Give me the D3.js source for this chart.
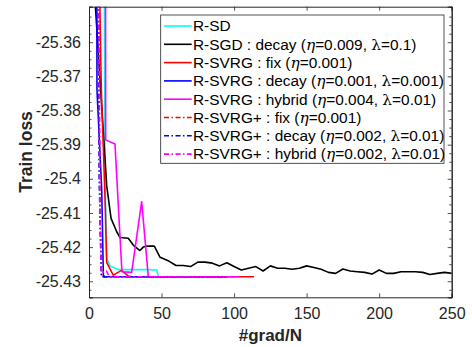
<!DOCTYPE html>
<html><head><meta charset="utf-8">
<script src="https://cdn.jsdelivr.net/npm/d3@7"></script>
<style>
body{margin:0;background:#fff;}
svg{display:block;font-family:"Liberation Sans",Arial,Helvetica,sans-serif;}
</style></head>
<body><svg id="chart" width="472" height="347"></svg>
<script>
// ---- data ----
const xTicks = [0, 50, 100, 150, 200, 250];
const yTicks = [-25.36, -25.37, -25.38, -25.39, -25.4, -25.41, -25.42, -25.43];
const yTickLabels = ["-25.36", "-25.37", "-25.38", "-25.39", "-25.4", "-25.41", "-25.42", "-25.43"];
const xDomain = [0, 250];
const yDomain = [-25.4347, -25.3496];

const sdX = [10.3, 11, 12.2, 14.5, 18, 20, 30, 40, 46.7, 47.8];
const sdY = [-25.30, -25.400, -25.4232, -25.4255, -25.4262, -25.4266, -25.4266, -25.4266, -25.4267, -25.4285];

const sgdX = [3, 12.2, 15.2, 19.1, 21.4, 27.1, 30.5, 35.1, 37.4, 40, 45, 49, 55, 60, 65, 70, 75, 80, 85, 90, 95, 100, 105, 110, 115, 120, 125, 130, 135, 140, 145, 150, 155, 160, 165, 170, 175, 180, 185, 190, 195, 200, 205, 210, 215, 220, 225, 230, 235, 240, 245, 250];
const sgdY = [-25.34, -25.402, -25.4116, -25.4155, -25.4172, -25.4174, -25.4194, -25.421, -25.42, -25.4197, -25.4197, -25.423, -25.4241, -25.4254, -25.4254, -25.4257, -25.4244, -25.4244, -25.4247, -25.4255, -25.4246, -25.4257, -25.4267, -25.4262, -25.4257, -25.427, -25.4255, -25.4262, -25.4262, -25.4265, -25.4262, -25.4255, -25.426, -25.4265, -25.4274, -25.4277, -25.4264, -25.427, -25.4272, -25.4274, -25.4279, -25.4267, -25.4277, -25.4277, -25.4272, -25.4272, -25.4272, -25.4274, -25.428, -25.4277, -25.4274, -25.4277];

const svrgFixX = [5.5, 8.5, 11, 12.2, 16.7, 22.5, 27.1, 30, 60, 90, 113.7];
const svrgFixY = [-25.30, -25.374, -25.405, -25.4245, -25.4282, -25.4268, -25.4285, -25.4287, -25.4287, -25.4287, -25.4287];

const svrgDecayX = [5, 5.5, 8.75, 9.9, 11, 50, 95];
const svrgDecayY = [-25.20, -25.374, -25.403, -25.4283, -25.4287, -25.4287, -25.4287];

const svrgHybX = [11, 11.5, 17.9, 22.7, 29.4, 36.3, 40.9, 70, 103];
const svrgHybY = [-25.20, -25.3886, -25.3898, -25.4272, -25.4274, -25.4067, -25.4287, -25.4287, -25.4287];

const plusFixX = [5.3, 7.5, 8.8, 50, 95];
const plusFixY = [-25.20, -25.41, -25.4287, -25.4287, -25.4287];

const plusDecayX = [5, 7, 8.5, 50, 95];
const plusDecayY = [-25.20, -25.40, -25.4287, -25.4287, -25.4287];

const plusHybX = [5, 7.5, 8.5, 12, 14, 50, 95];
const plusHybY = [-25.20, -25.41, -25.4275, -25.427, -25.4287, -25.4287, -25.4287];

const seriesNames = [
  ["R-SD"],
  ["R-SGD : decay (", "η", "=0.009, ", "λ", "=0.1)"],
  ["R-SVRG : fix (", "η", "=0.001)"],
  ["R-SVRG : decay (", "η", "=0.001, ", "λ", "=0.001)"],
  ["R-SVRG : hybrid (", "η", "=0.004, ", "λ", "=0.01)"],
  ["R-SVRG+ : fix (", "η", "=0.001)"],
  ["R-SVRG+ : decay (", "η", "=0.002, ", "λ", "=0.01)"],
  ["R-SVRG+ : hybrid (", "η", "=0.002, ", "λ", "=0.01)"]
];
const seriesX = [sdX, sgdX, svrgFixX, svrgDecayX, svrgHybX, plusFixX, plusDecayX, plusHybX];
const seriesY = [sdY, sgdY, svrgFixY, svrgDecayY, svrgHybY, plusFixY, plusDecayY, plusHybY];
const colors = ["#00ffff", "#000000", "#ff0000", "#0000ff", "#ff00ff", "#ff0000", "#0000ff", "#ff00ff"];
const dashes = [null, null, null, null, null, "5,2.5,1.5,2.5", "5,2.5,1.5,2.5", "5,2.5,1.5,2.5"];

// ---- layout ----
const L = 89, R = 451.7, T = 6.7, B = 297.3;
const svg = d3.select("#chart");
const x = d3.scaleLinear().domain(xDomain).range([L, R]);
const y = d3.scaleLinear().domain(yDomain).range([B, T]);
const axisColor = "#262626";

svg.append("defs").append("clipPath").attr("id", "clip")
  .append("rect").attr("x", L).attr("y", T).attr("width", R - L).attr("height", B - T);

// lines
const line = d3.line().x(d => x(d[0])).y(d => y(d[1]));
const g = svg.append("g").attr("clip-path", "url(#clip)");
seriesX.forEach((xs, i) => {
  const pts = xs.map((v, j) => [v, seriesY[i][j]]);
  g.append("path").attr("d", line(pts)).attr("fill", "none")
    .attr("stroke", colors[i]).attr("stroke-width", 1.6)
    .attr("stroke-linejoin", "round")
    .attr("stroke-dasharray", dashes[i]);
});

// axes
const fs = 16;
svg.append("g").attr("transform", `translate(0,${B})`)
  .call(d3.axisBottom(x).tickValues(xTicks).tickSize(-4).tickPadding(10).tickFormat(d3.format("d")));
svg.append("g").attr("transform", `translate(0,${T})`)
  .call(d3.axisTop(x).tickValues(xTicks).tickSize(-4).tickFormat(""));
svg.append("g").attr("transform", `translate(${L},0)`)
  .call(d3.axisLeft(y).tickValues(yTicks).tickSize(-4).tickPadding(8).tickFormat((d, i) => yTickLabels[i]));
svg.append("g").attr("transform", `translate(${R},0)`)
  .call(d3.axisRight(y).tickValues(yTicks).tickSize(-4).tickFormat(""));
const minorY = d3.range(-25.4325, -25.3496, 0.0025).filter(v => Math.abs(Math.round(v * 100) / 100 - v) > 1e-6);
svg.append("g").attr("transform", `translate(${L},0)`)
  .call(d3.axisLeft(y).tickValues(minorY).tickSize(-2.5).tickFormat(""));
svg.append("g").attr("transform", `translate(${R},0)`)
  .call(d3.axisRight(y).tickValues(minorY).tickSize(-2.5).tickFormat(""));
svg.selectAll(".domain").attr("stroke", axisColor).attr("stroke-width", 1);
svg.selectAll(".tick line").attr("stroke", axisColor).attr("stroke-width", 0.8);
svg.selectAll(".tick text").attr("font-size", fs).attr("fill", axisColor)
  .attr("font-family", '"Liberation Sans",Arial,sans-serif');

// labels
svg.append("text").attr("x", (L + R) / 2).attr("y", 341).attr("text-anchor", "middle")
  .attr("font-size", 17).attr("font-weight", "bold").attr("fill", axisColor).text("#grad/N");
svg.append("text").attr("transform", `translate(32,${(T + B) / 2}) rotate(-90)`)
  .attr("text-anchor", "middle").attr("font-size", 17.5).attr("font-weight", "bold")
  .attr("fill", axisColor).text("Train loss");

// legend
const lg = svg.append("g");
const lx0 = 160.7, ly0 = 15, lw = 283.3, lh = 148.3;
lg.append("rect").attr("x", lx0).attr("y", ly0).attr("width", lw).attr("height", lh)
  .attr("fill", "#fff").attr("stroke", axisColor).attr("stroke-width", 0.8);
seriesNames.forEach((parts, i) => {
  const cy = 26 + i * 18.3;
  lg.append("line").attr("x1", 164).attr("x2", 191.7).attr("y1", cy).attr("y2", cy)
    .attr("stroke", colors[i]).attr("stroke-width", 1.6).attr("stroke-dasharray", dashes[i]);
  const t = lg.append("text").attr("x", 193).attr("y", cy + 5.3).attr("font-size", 15.4).attr("fill", "#000");
  parts.forEach(p => {
    const ts = t.append("tspan").text(p);
    if (p === "η") ts.attr("font-style", "italic").attr("font-family", '"DejaVu Serif",serif');
    if (p === "λ") ts.attr("font-family", '"DejaVu Serif",serif');
  });
});
</script></body></html>
